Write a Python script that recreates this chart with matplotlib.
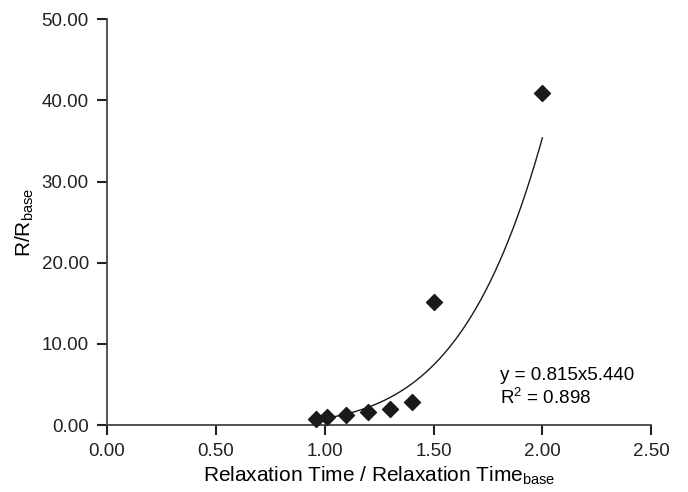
import matplotlib
matplotlib.use('Agg')
import matplotlib.pyplot as plt
import numpy as np

plt.rcParams['font.family'] = ['Liberation Sans', 'DejaVu Sans']
plt.rcParams['mathtext.fontset'] = 'custom'
plt.rcParams['mathtext.rm'] = 'Liberation Sans'

# measured points
t_ratio = [0.96, 1.01, 1.10, 1.20, 1.30, 1.40, 1.50, 2.00]
r_ratio = [0.8, 1.0, 1.3, 1.6, 2.0, 2.9, 15.2, 40.9]

# power-law fit y = a * x^b
fit_a = 0.815
fit_b = 5.440
fit_r2 = 0.898

xticks = [0.0, 0.5, 1.0, 1.5, 2.0, 2.5]
yticks = [0, 10, 20, 30, 40, 50]

fig = plt.figure(figsize=(6.88, 4.92), dpi=100)
ax = fig.add_axes([0.1555, 0.136, 0.791, 0.825])

xf = np.linspace(min(t_ratio), max(t_ratio), 200)
ax.plot(xf, fit_a * xf ** fit_b, color='#1a1a1a', lw=1.0)
ax.scatter(t_ratio, r_ratio, marker='D', s=66, color='#1a1a1a', zorder=3, clip_on=False)

ax.text(1.805, 6.1, f'y = {fit_a:.3f}x{fit_b:.3f}', fontsize=13.5, va='center')
ax.text(1.805, 3.4, f'R$^2$ = {fit_r2:.3f}', fontsize=13.5, va='center')

ax.set_xlim(0, 2.5)
ax.set_ylim(0, 50)
ax.set_xticks(xticks)
ax.set_yticks(yticks)
ax.set_xticklabels([f'{v:.2f}' for v in xticks])
ax.set_yticklabels([f'{v:.2f}' for v in yticks])
ax.tick_params(direction='out', length=7, width=1.5, labelsize=13.5, colors='#222222')
ax.tick_params(axis='x', pad=6)
ax.tick_params(axis='y', pad=6)
for s in ['top', 'right']:
    ax.spines[s].set_visible(False)
for s in ['left', 'bottom']:
    ax.spines[s].set_linewidth(1.3)
    ax.spines[s].set_color('#444444')

ax.set_xlabel('Relaxation Time / Relaxation Time$_{\\mathrm{base}}$', fontsize=15, labelpad=3)
ax.set_ylabel('R/R$_{\\mathrm{base}}$', fontsize=15, labelpad=4)

fig.savefig('out.png', dpi=100, facecolor='white')
